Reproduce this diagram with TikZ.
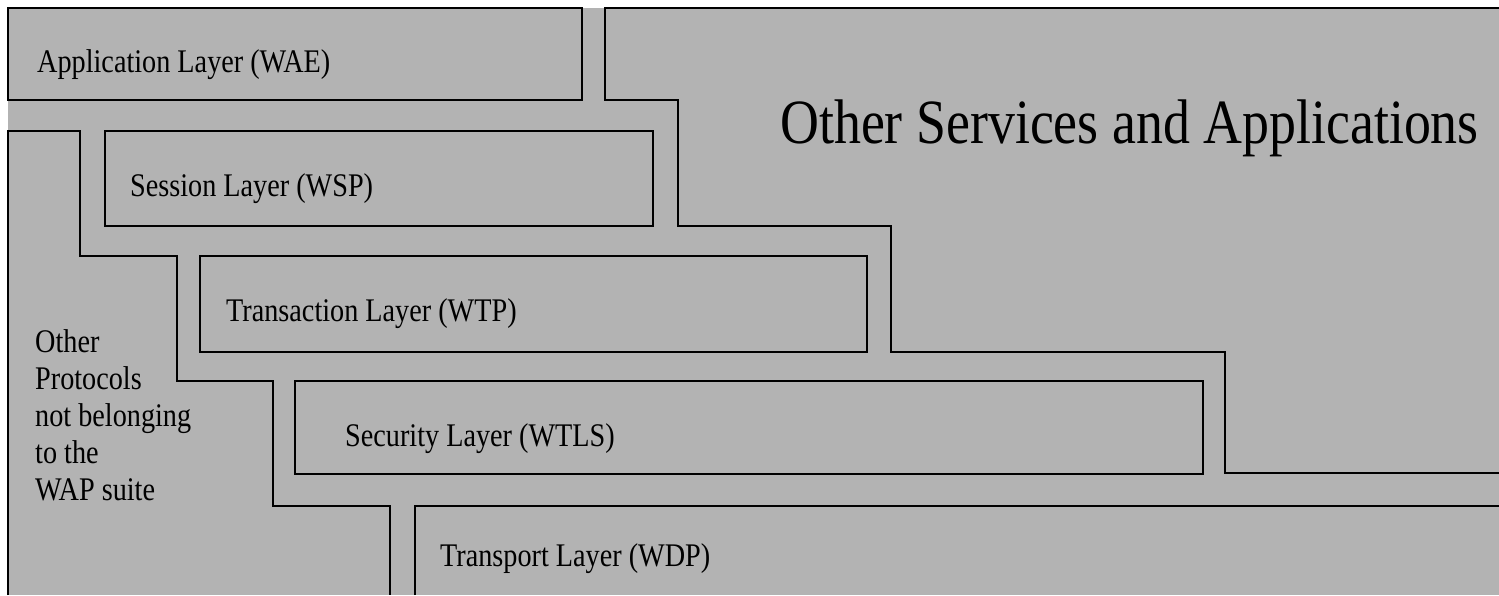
\documentclass[tikz,border=0pt]{standalone}
\usepackage{fontspec}
\setmainfont{Liberation Serif}
\usetikzlibrary{positioning}
\definecolor{colBack}{RGB}{179,179,179}
\tikzset{
  edge/.style   = {draw=black, line width=2pt, line join=miter},
  lbl/.style    = {anchor=base west, inner sep=0pt, font=\fontsize{33}{37}\selectfont},
  bigLbl/.style = {anchor=base west, inner sep=0pt, font=\fontsize{63}{70}\selectfont},
}
\newcommand{\squeeze}[1]{\scalebox{0.855}[1]{#1}}

\begin{document}
\begin{tikzpicture}[x=1pt, y=-1pt]
\useasboundingbox (0,0) rectangle (1499,595);

%% ── background ──────────────────────────────────────────────────────────────
\fill[colBack] (8,8) rectangle (1499,595);

%% ── WAP layer boxes ─────────────────────────────────────────────────────────
\draw[edge] (8,8)    rectangle (582,100);
\draw[edge] (105,131) rectangle (653,226);
\draw[edge] (200,256) rectangle (867,352);
\draw[edge] (295,381) rectangle (1203,474);

% Transport layer, open to the right and below
\draw[edge] (415,595) -- (415,506) -- (1499,506);

%% ── other services (stairs on the right) ───────────────────────────────────
\draw[edge] (1499,8) -- (605,8) -- (605,100) -- (678,100) -- (678,226)
  -- (891,226) -- (891,352) -- (1225,352) -- (1225,473) -- (1499,473);

%% ── other protocols (stairs on the left) ───────────────────────────────────
\draw[edge] (8,595) -- (8,131) -- (80,131) -- (80,256) -- (177,256)
  -- (177,381) -- (273,381) -- (273,506) -- (390,506) -- (390,595);

%% ── labels ──────────────────────────────────────────────────────────────────
\node[lbl] (wae)  at (37,72)   {\squeeze{Application Layer (WAE)}};
\node[lbl] (wsp)  at (130,196) {\squeeze{Session Layer (WSP)}};
\node[lbl] (wtp)  at (226,321) {\squeeze{Transaction Layer (WTP)}};
\node[lbl] (wtls) at (345,446) {\squeeze{Security Layer (WTLS)}};
\node[lbl] (wdp)  at (440,566) {\squeeze{Transport Layer (WDP)}};

\node[bigLbl] (services) at (780,143)
  {\squeeze{Other Services and Applications}};

\node[lbl] (protocols) at (35,352)
  {\squeeze{\begin{tabular}[t]{@{}l@{}}Other\\Protocols\\not belonging\\to the\\WAP suite\end{tabular}}};

\end{tikzpicture}
\end{document}
